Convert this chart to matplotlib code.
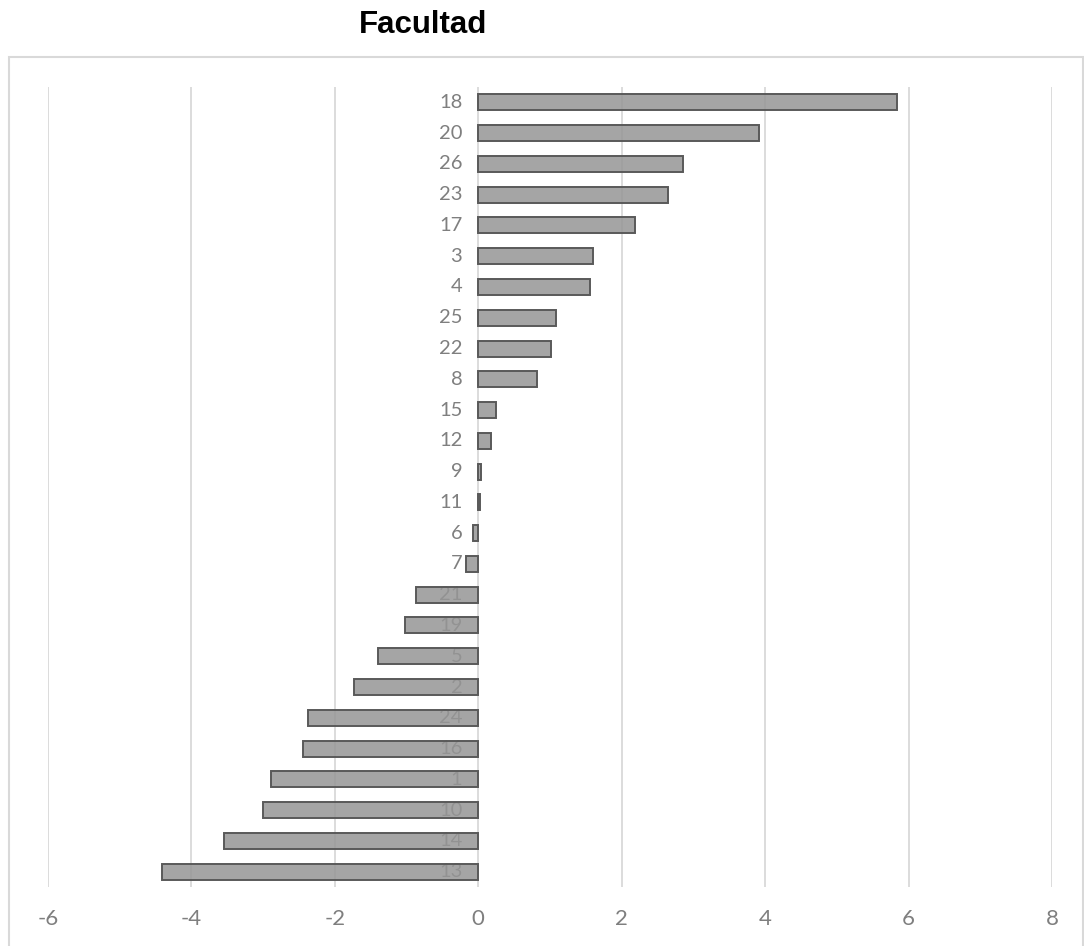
import matplotlib
matplotlib.use("Agg")
import matplotlib.pyplot as plt
from matplotlib.patches import Rectangle
from matplotlib.transforms import offset_copy

# categorias (de arriba hacia abajo) y sus valores
categorias = ["18", "20", "26", "23", "17", "3", "4", "25", "22", "8", "15", "12", "9",
              "11", "6", "7", "21", "19", "5", "2", "24", "16", "1", "10", "14", "13"]
valores = [5.84, 3.91, 2.85, 2.65, 2.18, 1.60, 1.56, 1.09, 1.02, 0.82, 0.25, 0.18, 0.04,
           0.02, -0.08, -0.17, -0.87, -1.02, -1.40, -1.74, -2.38, -2.44, -2.89, -3.00,
           -3.54, -4.41]
ticks_x = [-6, -4, -2, 0, 2, 4, 6, 8]

W, H = 1084, 946
fig = plt.figure(figsize=(W / 100, H / 100), dpi=100)
ax = fig.add_axes([48 / W, (H - 887) / H, (1052 - 48) / W, 800 / H])

n = len(categorias)
pos = [n - 1 - i for i in range(n)]

# barras semitransparentes para que las etiquetas se vean debajo
ax.barh(pos, valores, height=0.52, color=(0.59, 0.59, 0.59, 0.85),
        edgecolor="#595959", linewidth=1.4, zorder=3)

gris = "#7f7f7f"
trans = offset_copy(ax.transData, fig=fig, x=-16, y=0, units="dots")
for p, c in zip(pos, categorias):
    ax.text(0, p, c, transform=trans, ha="right", va="center",
            fontsize=14.5, color=gris, family="Lato", zorder=2)

ax.set_xlim(-6, 8)
ax.set_ylim(-0.5, n - 0.5)
ax.set_xticks(ticks_x)
ax.set_xticklabels([str(t) for t in ticks_x], fontsize=16, color=gris, family="Lato")
ax.set_yticks([])
ax.tick_params(axis="x", length=0, pad=16)
ax.grid(axis="x", color="#d9d9d9", linewidth=1.3, zorder=0)
ax.set_axisbelow(True)
for s in ax.spines.values():
    s.set_visible(False)

# marco del area del grafico
fig.patches.append(Rectangle((9 / W, -0.01), (W - 10) / W, (H - 57) / H + 0.01,
                             transform=fig.transFigure, fill=False,
                             edgecolor="#d9d9d9", linewidth=1.5))

fig.text(423 / W, 1 - 25 / H, "Facultad", ha="center", va="center",
         fontsize=22.5, fontweight="bold", family="Liberation Sans")

fig.savefig("out.png", dpi=100)
